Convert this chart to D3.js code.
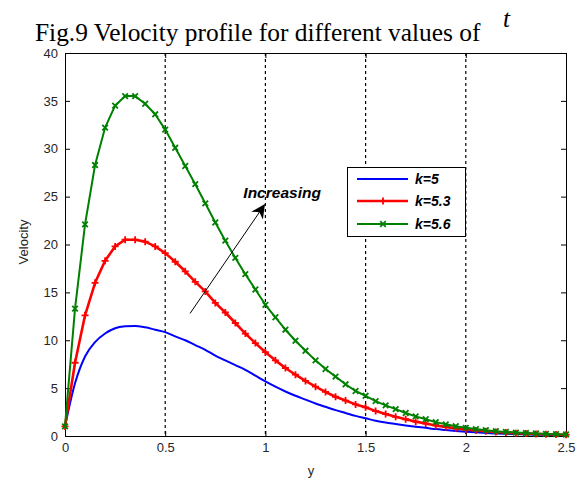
<!DOCTYPE html>
<html><head><meta charset="utf-8">
<script src="https://cdn.jsdelivr.net/npm/d3@7"></script>
<style>body{margin:0;background:#fff;}svg{display:block;}</style>
</head><body>
<svg id="c" width="576" height="478"></svg>
<script>
const xValues = [0,0.05,0.1,0.15,0.2,0.25,0.3,0.35,0.4,0.45,0.5,0.55,0.6,0.65,0.7,0.75,0.8,0.85,0.9,0.95,1.0,1.05,1.1,1.15,1.2,1.25,1.3,1.35,1.4,1.45,1.5,1.55,1.6,1.65,1.7,1.75,1.8,1.85,1.9,1.95,2.0,2.05,2.1,2.15,2.2,2.25,2.3,2.35,2.4,2.45,2.5];
const velK5 = [1.0,5.5,8.3,9.8,10.7,11.25,11.45,11.5,11.35,11.1,10.85,10.4,10.0,9.5,9.0,8.4,7.9,7.4,6.9,6.3,5.7,5.15,4.65,4.2,3.8,3.4,3.05,2.7,2.4,2.1,1.85,1.6,1.4,1.25,1.1,0.97,0.85,0.72,0.62,0.53,0.45,0.38,0.32,0.27,0.23,0.2,0.17,0.14,0.12,0.1,0.08];
const velK53 = [1.0,7.65,12.6,16.0,18.3,19.8,20.5,20.5,20.3,19.8,19.1,18.2,17.2,16.1,15.1,13.9,12.9,11.8,10.7,9.7,8.75,7.9,7.1,6.4,5.75,5.15,4.6,4.1,3.7,3.3,3.0,2.6,2.3,2.0,1.75,1.5,1.3,1.1,0.95,0.8,0.68,0.58,0.5,0.42,0.36,0.3,0.26,0.22,0.19,0.16,0.13];
const velK56 = [1.0,13.3,22.1,28.3,32.2,34.5,35.5,35.5,34.7,33.6,32.0,30.1,28.2,26.3,24.3,22.3,20.4,18.6,16.9,15.3,13.7,12.4,11.1,9.95,8.9,7.9,7.0,6.2,5.4,4.7,4.2,3.65,3.2,2.8,2.4,2.05,1.75,1.45,1.22,1.02,0.85,0.72,0.6,0.5,0.43,0.36,0.31,0.26,0.22,0.19,0.16];
const xTicks = [0,0.5,1,1.5,2,2.5];
const yTicks = [0,5,10,15,20,25,30,35,40];
const gridX = [0.5,1,1.5,2];
const seriesLabels = ["k=5","k=5.3","k=5.6"];
const seriesColors = ["#0000ff","#ff0000","#008000"];
const arrowFrom = [0.624, 12.8];
const arrowTo = [0.994, 24.1];
const arrowText = "Increasing";
const arrowTextPos = [0.89, 24.9];

const svg = d3.select("#c");
const L = 65, T = 53, W = 501, H = 383;
const x = d3.scaleLinear().domain([0,2.5]).range([L, L+W]);
const y = d3.scaleLinear().domain([0,40]).range([T+H, T]);

// title
svg.append("text").attr("x", 35).attr("y", 41)
  .attr("font-family","Liberation Serif, Times New Roman, serif").attr("font-size", 25.4).attr("fill","#000")
  .text("Fig.9 Velocity profile for different values of");
svg.append("text").attr("x", 503).attr("y", 27)
  .attr("font-family","Liberation Serif, Times New Roman, serif").attr("font-style","italic").attr("font-size", 25).attr("fill","#000")
  .text("t");

// dashed grid lines
svg.append("g").selectAll("line").data(gridX).join("line")
  .attr("x1", d => x(d)).attr("x2", d => x(d)).attr("y1", T).attr("y2", T+H)
  .attr("stroke","#000").attr("stroke-width",1.2).attr("stroke-dasharray","3,3");

// axes with inward ticks
const axisFont = "Liberation Sans, Arial, sans-serif";
function styleAxis(g){
  g.selectAll("text").attr("font-family", axisFont).attr("font-size", 13).attr("fill","#262626");
  g.selectAll("line").attr("stroke","#000");
  g.select(".domain").attr("stroke","#000");
}
svg.append("g").attr("transform",`translate(0,${T+H})`)
  .call(d3.axisBottom(x).tickValues(xTicks).tickFormat(d3.format("")).tickSize(-5).tickSizeOuter(0).tickPadding(7))
  .call(styleAxis);
svg.append("g").attr("transform",`translate(${L},0)`)
  .call(d3.axisLeft(y).tickValues(yTicks).tickSize(-5).tickSizeOuter(0).tickPadding(7))
  .call(styleAxis);
svg.append("g").attr("transform",`translate(0,${T})`)
  .call(d3.axisTop(x).tickValues(xTicks).tickFormat("").tickSize(-5).tickSizeOuter(0))
  .call(styleAxis);
svg.append("g").attr("transform",`translate(${L+W},0)`)
  .call(d3.axisRight(y).tickValues(yTicks).tickFormat("").tickSize(-5).tickSizeOuter(0))
  .call(styleAxis);

// axis labels
svg.append("text").attr("x", 311).attr("y", 475).attr("text-anchor","middle")
  .attr("font-family", axisFont).attr("font-size", 13).attr("fill","#262626").text("y");
svg.append("text").attr("transform","translate(28,242) rotate(-90)").attr("text-anchor","middle")
  .attr("font-family", axisFont).attr("font-size", 13).attr("fill","#262626").text("Velocity");

// lines
const series = [velK5, velK53, velK56];
const widths = [2, 2.6, 2];
const symTypes = [null, d3.symbolPlus, d3.symbolTimes];
const symSizes = [0, 18, 22];
series.forEach((vals, i) => {
  const pts = xValues.map((xv, j) => [xv, vals[j]]);
  const line = d3.line().x(d => x(d[0])).y(d => y(d[1])).curve(i === 0 ? d3.curveMonotoneX : d3.curveLinear);
  svg.append("path").datum(pts).attr("d", line).attr("fill","none")
    .attr("stroke", seriesColors[i]).attr("stroke-width", widths[i]).attr("stroke-linejoin","round");
  if (i > 0) {
    const sym = d3.symbol().type(symTypes[i]).size(symSizes[i]);
    svg.append("g").selectAll("path").data(pts).join("path")
      .attr("transform", d => `translate(${x(d[0])},${y(d[1])})`)
      .attr("d", sym).attr("fill","none").attr("stroke", seriesColors[i]).attr("stroke-width", 1.8);
  }
});

// arrow annotation
svg.append("defs").append("marker").attr("id","ah").attr("viewBox","0 0 10 10")
  .attr("refX", 9).attr("refY", 5).attr("markerWidth", 14).attr("markerHeight", 14)
  .attr("markerUnits","userSpaceOnUse").attr("orient","auto")
  .append("path").attr("d","M0,0 L10,5 L0,10 L3,5 Z").attr("fill","#000");
svg.append("line").attr("x1", x(arrowFrom[0])).attr("y1", y(arrowFrom[1]))
  .attr("x2", x(arrowTo[0])).attr("y2", y(arrowTo[1]))
  .attr("stroke","#000").attr("stroke-width",1).attr("marker-end","url(#ah)");
svg.append("text").attr("x", x(arrowTextPos[0])).attr("y", y(arrowTextPos[1]))
  .attr("font-family", axisFont).attr("font-size", 15.5).attr("font-weight","bold").attr("font-style","italic")
  .attr("fill","#000").text(arrowText);

// legend
const lg = svg.append("g");
lg.append("rect").attr("x", 347.5).attr("y", 167.5).attr("width", 118).attr("height", 69)
  .attr("fill","#fff").attr("stroke","#000").attr("stroke-width",1);
const rowsY = [179, 201, 224];
seriesLabels.forEach((lab, i) => {
  lg.append("line").attr("x1", 357).attr("x2", 408).attr("y1", rowsY[i]).attr("y2", rowsY[i])
    .attr("stroke", seriesColors[i]).attr("stroke-width", widths[i]);
  if (i > 0) {
    lg.append("path").attr("transform", `translate(383,${rowsY[i]})`)
      .attr("d", d3.symbol().type(symTypes[i]).size(symSizes[i]))
      .attr("fill","none").attr("stroke", seriesColors[i]).attr("stroke-width",1.8);
  }
  lg.append("text").attr("x", 415).attr("y", rowsY[i] + 5)
    .attr("font-family", axisFont).attr("font-size", 14).attr("font-weight","bold").attr("font-style","italic")
    .attr("fill","#000").text(lab);
});
</script>
</body></html>
